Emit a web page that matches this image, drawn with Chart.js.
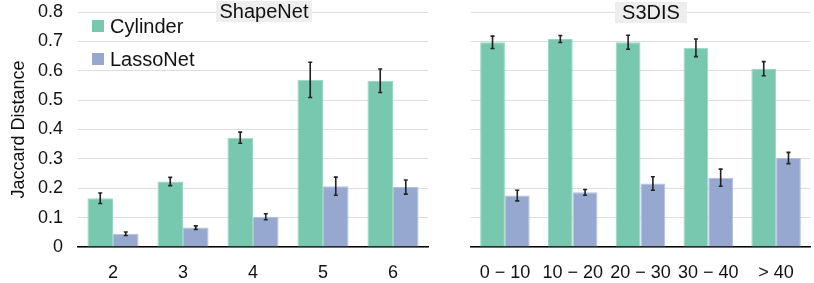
<!DOCTYPE html>
<html>
<head>
<meta charset="utf-8">
<script src="https://cdn.jsdelivr.net/npm/chart.js@4"></script>
<style>
  body { margin: 0; background: #fff; font-family: "Liberation Sans", Arial, sans-serif; }
  #wrap { position: relative; width: 814px; height: 283px; overflow: hidden; }
  canvas { position: absolute; top: 0; }
  .titulo { position: absolute; background: #eeeeee; color: #111; font-size: 20px; line-height: 21px; text-align: center; }
  .leyenda { position: absolute; font-size: 20px; color: #111; line-height: 20px; }
  .leyenda span { display: inline-block; width: 12px; height: 12px; margin-right: 6px; vertical-align: 1px; }
</style>
</head>
<body>
<div id="wrap">
  <canvas id="graficaShapeNet" width="430" height="283" style="left:0;width:430px;height:283px"></canvas>
  <canvas id="graficaS3DIS" width="384" height="283" style="left:430px;width:384px;height:283px"></canvas>
  <div class="titulo" style="left:216px;top:1px;width:96px;">ShapeNet</div>
  <div class="titulo" style="left:615px;top:2px;width:72px;">S3DIS</div>
  <div class="leyenda" style="left:92px;top:16px;"><span style="background:#77c8ae"></span>Cylinder</div>
  <div class="leyenda" style="left:92px;top:49px;"><span style="background:#96a8d0"></span>LassoNet</div>
</div>
<script>
        // Datos
        var categoriasShapeNet = ['2', '3', '4', '5', '6'];
        var cylinderShapeNet = [0.166, 0.223, 0.372, 0.569, 0.566];
        var cylinderShapeNetErr = [0.018, 0.014, 0.019, 0.060, 0.040];
        var lassoShapeNet = [0.045, 0.066, 0.103, 0.207, 0.204];
        var lassoShapeNetErr = [0.006, 0.006, 0.010, 0.031, 0.024];

        var categoriasS3DIS = ['0 \u2212 10', '10 \u2212 20', '20 \u2212 30', '30 \u2212 40', '> 40'];
        var cylinderS3DIS = [0.697, 0.708, 0.697, 0.678, 0.607];
        var cylinderS3DISErr = [0.021, 0.012, 0.024, 0.030, 0.024];
        var lassoS3DIS = [0.175, 0.186, 0.216, 0.236, 0.303];
        var lassoS3DISErr = [0.018, 0.010, 0.023, 0.029, 0.019];

        var marcasY = [0, 0.1, 0.2, 0.3, 0.4, 0.5, 0.6, 0.7, 0.8];

        var fuente = '"Liberation Sans", Arial, sans-serif';

        // Plugin para dibujar barras de error
        var barrasError = {
            id: 'barrasError',
            afterDatasetsDraw: function (chart) {
                var ctx = chart.ctx;
                var escalaY = chart.scales.y;
                ctx.save();
                ctx.strokeStyle = '#222';
                ctx.lineWidth = 1.6;
                chart.data.datasets.forEach(function (ds, i) {
                    var meta = chart.getDatasetMeta(i);
                    meta.data.forEach(function (barra, j) {
                        var v = ds.data[j];
                        var e = ds.errores[j];
                        var yArriba = escalaY.getPixelForValue(v + e);
                        var yAbajo = escalaY.getPixelForValue(v - e);
                        ctx.beginPath();
                        ctx.moveTo(barra.x, yArriba);
                        ctx.lineTo(barra.x, yAbajo);
                        ctx.moveTo(barra.x - 2, yArriba);
                        ctx.lineTo(barra.x + 2, yArriba);
                        ctx.moveTo(barra.x - 2, yAbajo);
                        ctx.lineTo(barra.x + 2, yAbajo);
                        ctx.stroke();
                    });
                });
                ctx.restore();
            }
        };

        function crearGrafica(id, categorias, cyl, cylErr, lasso, lassoErr, conEjeY, padDerecha) {
            var ctx = document.getElementById(id).getContext('2d');
            return new Chart(ctx, {
                type: 'bar',
                data: {
                    labels: categorias,
                    datasets: [{
                        label: 'Cylinder',
                        data: cyl,
                        errores: cylErr,
                        backgroundColor: '#77c8ae',
                        borderColor: '#9ad6c2',
                        borderWidth: 1,
                        categoryPercentage: 0.73,
                        barPercentage: 1
                    }, {
                        label: 'LassoNet',
                        data: lasso,
                        errores: lassoErr,
                        backgroundColor: '#96a8d0',
                        borderColor: '#b3c0de',
                        borderWidth: 1,
                        categoryPercentage: 0.73,
                        barPercentage: 1
                    }]
                },
                options: {
                    responsive: false,
                    animation: false,
                    layout: { padding: { top: 12, right: padDerecha, left: 0, bottom: 0 } },
                    plugins: {
                        legend: { display: false },
                        tooltip: { enabled: false }
                    },
                    scales: {
                        x: {
                            grid: { display: false, drawTicks: false },
                            border: { display: true, color: '#000', width: 1.5 },
                            ticks: { color: '#111', font: { family: fuente, size: 18 }, padding: 15, maxRotation: 0, autoSkip: false },
                            afterFit: function (escala) { escala.height = 36; }
                        },
                        y: {
                            min: 0,
                            max: 0.8,
                            afterBuildTicks: function (escala) {
                                escala.ticks = marcasY.map(function (v) { return { value: v }; });
                            },
                            grid: { color: '#dddddd', lineWidth: 1, drawTicks: false },
                            border: { display: false },
                            ticks: {
                                display: conEjeY,
                                color: '#111',
                                padding: 15,
                                font: { family: fuente, size: 18 },
                                callback: function (v) { return v === 0 ? '0' : v.toFixed(1); }
                            },
                            title: {
                                display: conEjeY,
                                text: 'Jaccard Distance',
                                color: '#111',
                                font: { family: fuente, size: 18 },
                                padding: { top: 8, bottom: 0 }
                            },
                            afterFit: function (escala) {
                                escala.width = conEjeY ? 78 : 41;
                                escala.paddingTop = 0;
                                escala.paddingBottom = 0;
                            }
                        }
                    }
                },
                plugins: [barrasError]
            });
        }

        crearGrafica('graficaShapeNet', categoriasShapeNet, cylinderShapeNet, cylinderShapeNetErr, lassoShapeNet, lassoShapeNetErr, true, 2);
        crearGrafica('graficaS3DIS', categoriasS3DIS, cylinderS3DIS, cylinderS3DISErr, lassoS3DIS, lassoS3DISErr, false, 4);
</script>
</body>
</html>
